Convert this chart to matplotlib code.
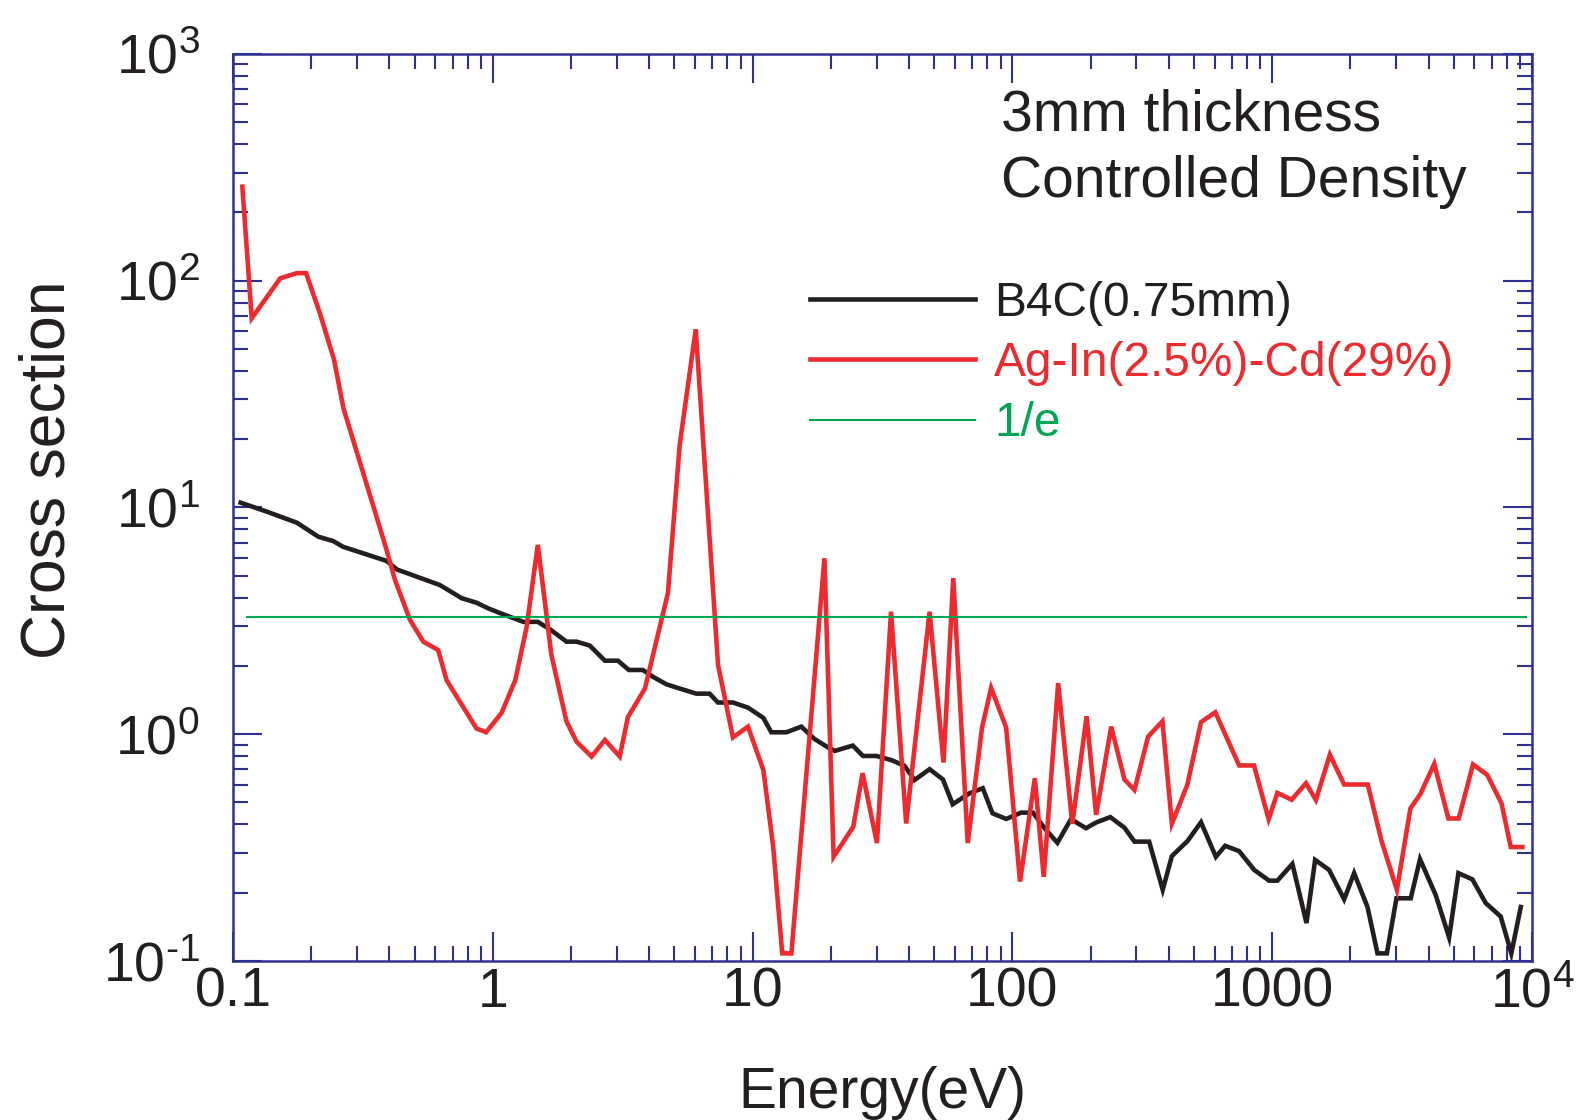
import numpy as np
import matplotlib
matplotlib.use('Agg')
import matplotlib.pyplot as plt
from matplotlib.ticker import LogLocator, FixedLocator, FixedFormatter, NullFormatter

plt.rcParams['font.family'] = ['Liberation Sans', 'DejaVu Sans']
plt.rcParams['mathtext.fontset'] = 'custom'
plt.rcParams['mathtext.rm'] = 'Liberation Sans'
plt.rcParams['mathtext.it'] = 'Liberation Sans'
plt.rcParams['axes.unicode_minus'] = False

NAVY  = '#2e3192'
RED   = '#ed2a2e'
BLACK = '#231f20'
GREEN = '#00a651'

# ── Data ──────────────────────────────────────────────────────────────────
E_b4c = [0.107, 0.135, 0.176, 0.213, 0.243, 0.265, 0.390, 0.427, 0.625, 0.759,
         0.866, 0.960, 1.06, 1.31, 1.49, 1.66, 1.92, 2.10, 2.36, 2.70,
         3.03, 3.34, 3.78, 4.14, 4.66, 5.24, 6.07, 6.83, 7.35, 8.40,
         9.60, 11.0, 11.8, 13.5, 15.4, 17.3, 19.5, 20.7, 24.3, 26.6,
         29.9, 34.2, 38.4, 42.0, 48.0, 54.0, 58.9, 68.4, 76.9, 83.8,
         94.6, 108, 120, 133, 149, 168, 192, 210, 238, 270,
         295, 336, 379, 411, 472, 532, 607, 659, 746, 853,
         973, 1047, 1196, 1355, 1463, 1656, 1892, 2067, 2327, 2543,
         2763, 3008, 3415, 3707, 4262, 4797, 5210, 5895, 6637, 7580,
         8325, 9055]
sig_b4c = [10.5, 9.58, 8.57, 7.43, 7.11, 6.71, 5.81, 5.33, 4.55, 3.98,
           3.80, 3.59, 3.43, 3.13, 3.13, 2.90, 2.56, 2.56, 2.46, 2.11,
           2.11, 1.92, 1.92, 1.79, 1.66, 1.59, 1.51, 1.51, 1.38, 1.38,
           1.31, 1.18, 1.02, 1.02, 1.08, 0.953, 0.875, 0.844, 0.891, 0.802,
           0.802, 0.769, 0.726, 0.628, 0.701, 0.632, 0.491, 0.549, 0.578, 0.448,
           0.423, 0.451, 0.451, 0.385, 0.332, 0.422, 0.385, 0.408, 0.431, 0.387,
           0.336, 0.336, 0.206, 0.290, 0.338, 0.409, 0.288, 0.322, 0.305, 0.252,
           0.226, 0.226, 0.268, 0.147, 0.279, 0.252, 0.187, 0.244, 0.173, 0.108,
           0.108, 0.189, 0.189, 0.281, 0.195, 0.127, 0.244, 0.229, 0.180, 0.157,
           0.108, 0.173]

E_agincd = [0.1086, 0.118, 0.152, 0.176, 0.191, 0.216, 0.245, 0.266, 0.347, 0.390,
            0.420, 0.480, 0.540, 0.616, 0.664, 0.865, 0.942, 1.08, 1.22, 1.35,
            1.49, 1.68, 1.92, 2.10, 2.40, 2.70, 3.08, 3.31, 3.85, 4.72,
            5.24, 6.04, 7.36, 8.40, 9.60, 11.0, 12.0, 13.0, 14.1, 18.9,
            20.5, 24.4, 26.5, 30.1, 34.1, 39.0, 48.0, 54.3, 59.2, 67.3,
            76.4, 82.8, 94.6, 107, 122, 132, 150, 170, 193, 210,
            240, 270, 295, 333, 378, 411, 471, 532, 604, 746,
            851, 969, 1047, 1188, 1349, 1473, 1667, 1892, 2333, 2636,
            3020, 3404, 3716, 4206, 4765, 5225, 5929, 6730, 7636, 8283,
            9184]
sig_agincd = [260, 68.3, 102.5, 108, 108, 71.8, 44.7, 27.4, 10.1, 6.50,
              4.79, 3.19, 2.56, 2.35, 1.73, 1.06, 1.02, 1.24, 1.73, 2.98,
              6.84, 2.24, 1.14, 0.927, 0.797, 0.943, 0.797, 1.19, 1.59, 4.19,
              18.9, 61.1, 2.02, 0.968, 1.08, 0.695, 0.319, 0.108, 0.108, 5.97,
              0.288, 0.391, 0.673, 0.331, 3.47, 0.404, 3.47, 0.750, 4.88, 0.331,
              1.07, 1.60, 1.07, 0.224, 0.640, 0.235, 1.68, 0.402, 1.20, 0.441,
              1.08, 0.631, 0.568, 0.976, 1.14, 0.403, 0.597, 1.13, 1.25, 0.728,
              0.728, 0.422, 0.551, 0.514, 0.608, 0.513, 0.812, 0.600, 0.600, 0.338,
              0.206, 0.471, 0.544, 0.740, 0.425, 0.425, 0.736, 0.661, 0.495, 0.318,
              0.318]

E_inv_e   = [0.113, 9500]
sig_inv_e = [3.28, 3.28]

x_ticks  = [0.1, 1, 10, 100, 1000, 1e4]
x_labels = ['0.1', '1', '10', '100', '1000', r'$10^4$']
y_ticks  = [0.1, 1, 10, 100, 1000]
y_labels = [r'$10^{\text{-}1}$', r'$10^0$', r'$10^1$', r'$10^2$', r'$10^3$']

# ── Figure ───────────────────────────────────────────────────────────────
fig = plt.figure(figsize=(15.81, 11.20), dpi=100)
ax = fig.add_axes([0.1474, 0.1420, 0.9690 - 0.1474, 0.9518 - 0.1420])

ax.plot(E_b4c, sig_b4c, color=BLACK, linewidth=3.3, solid_joinstyle='miter',
        label='B4C(0.75mm)')
ax.plot(E_agincd, sig_agincd, color=RED, linewidth=3.3, solid_joinstyle='miter',
        label='Ag-In(2.5%)-Cd(29%)')
ax.plot(E_inv_e, sig_inv_e, color=GREEN, linewidth=1.5, label='1/e')

ax.set_xscale('log')
ax.set_yscale('log')
ax.set_xlim(0.1, 1e4)
ax.set_ylim(0.1, 1000)

ax.xaxis.set_major_locator(FixedLocator(x_ticks))
ax.xaxis.set_major_formatter(FixedFormatter(x_labels))
ax.yaxis.set_major_locator(FixedLocator(y_ticks))
ax.yaxis.set_major_formatter(FixedFormatter(y_labels))
ax.xaxis.set_minor_locator(LogLocator(base=10, subs=np.arange(2, 10), numticks=20))
ax.yaxis.set_minor_locator(LogLocator(base=10, subs=np.arange(2, 10), numticks=20))
ax.xaxis.set_minor_formatter(NullFormatter())
ax.yaxis.set_minor_formatter(NullFormatter())

for s in ax.spines.values():
    s.set_color(NAVY)
    s.set_linewidth(1.8)
ax.tick_params(which='both', direction='in', top=True, right=True, color=NAVY,
               width=1.5, labelcolor=BLACK, labelsize=40)
ax.tick_params(which='major', length=21)
ax.tick_params(which='minor', length=11)
ax.tick_params(axis='x', which='major', pad=33)
ax.tick_params(axis='y', which='major', pad=24)
for lab in ax.get_xticklabels():
    lab.set_verticalalignment('baseline')

ax.set_xlabel('Energy(eV)', fontsize=41, color=BLACK)
ax.set_ylabel('Cross section', fontsize=45, color=BLACK)
ax.xaxis.set_label_coords(0.5, -0.116)
ax.yaxis.set_label_coords(-0.120, 0.542)

ax.text(0.591, 0.962, '3mm thickness\nControlled Density', transform=ax.transAxes,
        fontsize=41, color=BLACK, ha='left', va='top', linespacing=1.3)

leg = ax.legend(loc='upper left', bbox_to_anchor=(0.444, 0.750), frameon=False,
                fontsize=34.5, handlelength=3.45, handletextpad=0.4,
                labelspacing=0.32, borderpad=0, borderaxespad=0)
for txt, c in zip(leg.get_texts(), [BLACK, RED, GREEN]):
    txt.set_color(c)

fig.savefig('out.png', dpi=100)
